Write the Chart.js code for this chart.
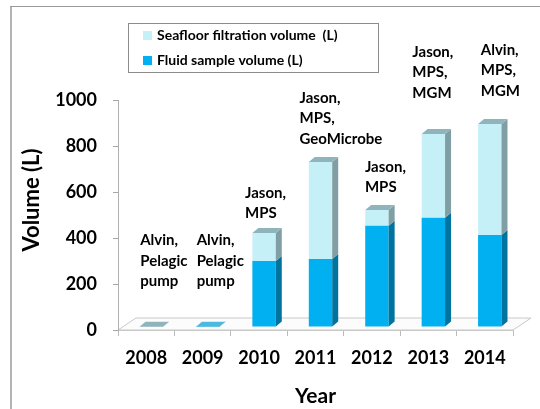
<!DOCTYPE html>
<html>
<head>
<meta charset="utf-8">
<script src="https://cdn.jsdelivr.net/npm/chart.js@4.4.1/dist/chart.umd.min.js"></script>
<style>
    html, body { margin: 0; padding: 0; background: #ffffff; }
    #box { width: 540px; height: 409px; }
</style>
</head>
<body>
<div id="box"><canvas id="volumes"></canvas></div>
<script>
const years = ["2008", "2009", "2010", "2011", "2012", "2013", "2014"];
const fluidVolume = [0, 1, 287, 296, 440, 475, 400];
const filtrationVolume = [1, 0, 122, 421, 69, 364, 483];
const yTicks = [0, 200, 400, 600, 800, 1000];
const notes = [
    ["Alvin,", "Pelagic", "pump"],
    ["Alvin,", "Pelagic", "pump"],
    ["Jason,", "MPS"],
    ["Jason,", "MPS,", "GeoMicrobe"],
    ["Jason,", "MPS"],
    ["Jason,", "MPS,", "MGM"],
    ["Alvin,", "MPS,", "MGM"]
];

// where each note sits: x shift from category centre, first line at value
const noteShift = [-6, -6, -14, -16, -7, -16, -4];
const noteAt = [390, 390, 595, 1010, 710, 1210, 1218];

const depth = { dx: 6, dy: -5 };

function poly(ctx, pts, fill) {
    ctx.beginPath();
    ctx.moveTo(pts[0][0], pts[0][1]);
    for (let k = 1; k < pts.length; k++) ctx.lineTo(pts[k][0], pts[k][1]);
    ctx.closePath();
    ctx.fillStyle = fill;
    ctx.fill();
}

const fake3d = {
    id: "fake3d",
    beforeDraw(chart) {
        const { ctx, chartArea: a } = chart;
        ctx.save();
        // outer frame
        ctx.strokeStyle = "#b4b4b4";
        ctx.lineWidth = 2;
        ctx.beginPath();
        ctx.moveTo(11, 409);
        ctx.lineTo(11, 6);
        ctx.stroke();
        ctx.strokeStyle = "#9a9a9a";
        ctx.lineWidth = 1;
        ctx.beginPath();
        ctx.moveTo(10, 6.5);
        ctx.lineTo(540, 6.5);
        ctx.stroke();
        // floor
        ctx.fillStyle = "#fcfcfc";
        ctx.strokeStyle = "#c8c8c8";
        ctx.beginPath();
        ctx.moveTo(a.left, a.bottom);
        ctx.lineTo(a.left + 18, a.bottom - 12);
        ctx.lineTo(a.right + 18, a.bottom - 12);
        ctx.lineTo(a.right, a.bottom);
        ctx.closePath();
        ctx.fill();
        ctx.stroke();
        ctx.restore();
    },
    beforeDatasetsDraw(chart) {
        chart.ctx.save();
        chart.ctx.translate(5, -3);
    },
    afterDatasetsDraw(chart) {
        const ctx = chart.ctx;
        const metas = chart.getSortedVisibleDatasetMetas();
        years.forEach((_, i) => {
            let top = null;
            metas.forEach(m => {
                const ds = chart.data.datasets[m.index];
                if (!(ds.data[i] > 0)) return;
                const p = m.data[i].getProps(["x", "y", "base", "width"], true);
                const r = p.x + p.width / 2;
                poly(ctx, [[r, p.y], [r + depth.dx, p.y + depth.dy], [r + depth.dx, p.base + depth.dy], [r, p.base]], ds.sideColor);
                top = { p, color: ds.topColor };
            });
            if (top) {
                const { p } = top;
                const l = p.x - p.width / 2, r = p.x + p.width / 2;
                poly(ctx, [[l, p.y], [r, p.y], [r + depth.dx, p.y + depth.dy], [l + depth.dx, p.y + depth.dy]], top.color);
            }
        });
        ctx.restore();
    },
    afterDraw(chart) {
        const ctx = chart.ctx;
        const x = chart.scales.x, y = chart.scales.y;
        ctx.save();

        // legend, top series first
        ctx.strokeStyle = "#8c8c8c";
        ctx.lineWidth = 1;
        ctx.strokeRect(128.5, 23.5, 250, 49);
        ctx.font = "bold 14px Lato";
        ctx.textBaseline = "middle";
        ctx.textAlign = "left";
        chart.data.datasets.slice().reverse().forEach((ds, k) => {
            const cy = 35 + k * 25;
            ctx.fillStyle = ds.backgroundColor;
            ctx.fillRect(143, cy - 4, 9, 9);
            ctx.fillStyle = "#000000";
            ctx.fillText(ds.label, 157, cy);
        });

        // notes above bars
        ctx.font = "bold 15px Lato";
        notes.forEach((lines, i) => {
            const nx = x.getPixelForValue(i) + noteShift[i];
            const ny = y.getPixelForValue(noteAt[i]);
            lines.forEach((t, k) => ctx.fillText(t, nx, ny + k * 20.5));
        });

        // y title
        ctx.translate(32, 200);
        ctx.rotate(-Math.PI / 2);
        ctx.textAlign = "center";
        ctx.font = "bold 22px Lato";
        ctx.fillText("Volume (L)", 0, 0);
        ctx.restore();
    }
};

Chart.defaults.font.family = "Lato";

new Chart(document.getElementById("volumes"), {
    type: "bar",
    data: {
        labels: years,
        datasets: [
            {
                label: "Fluid sample volume (L)",
                data: fluidVolume,
                backgroundColor: "#00b0f0",
                sideColor: "#00739e",
                topColor: "#4cb9df"
            },
            {
                label: "Seafloor filtration volume  (L)",
                data: filtrationVolume,
                backgroundColor: "#c6f0f8",
                sideColor: "#809fa5",
                topColor: "#8fb4bb"
            }
        ]
    },
    options: {
        responsive: true,
        maintainAspectRatio: false,
        animation: false,
        layout: {
            padding: { top: 100, right: 27, left: 0, bottom: 0 }
        },
        datasets: {
            bar: {
                categoryPercentage: 1,
                barPercentage: 0.415
            }
        },
        plugins: {
            legend: { display: false },
            tooltip: { enabled: false }
        },
        scales: {
            x: {
                stacked: true,
                afterFit(scale) { scale.height = 79; },
                grid: {
                    drawOnChartArea: false,
                    tickLength: 6,
                    color: "#bcbcbc"
                },
                border: { color: "#c8c8c8" },
                ticks: {
                    color: "#000000",
                    padding: 11,
                    font: { size: 18, weight: "bold" }
                },
                title: {
                    display: true,
                    text: "Year",
                    color: "#000000",
                    padding: 0,
                    font: { size: 21, weight: "bold" }
                }
            },
            y: {
                stacked: true,
                min: 0,
                max: 1000,
                afterFit(scale) { scale.width = 118; },
                afterBuildTicks(scale) {
                    scale.ticks = yTicks.map(v => ({ value: v }));
                },
                grid: {
                    drawOnChartArea: false,
                    tickLength: 5,
                    color: "#a6a6a6"
                },
                border: { color: "#b0b0b0" },
                ticks: {
                    color: "#000000",
                    padding: 16,
                    callback: v => String(v),
                    font: { size: 18, weight: "bold" }
                }
            }
        }
    },
    plugins: [fake3d]
});
</script>
</body>
</html>
